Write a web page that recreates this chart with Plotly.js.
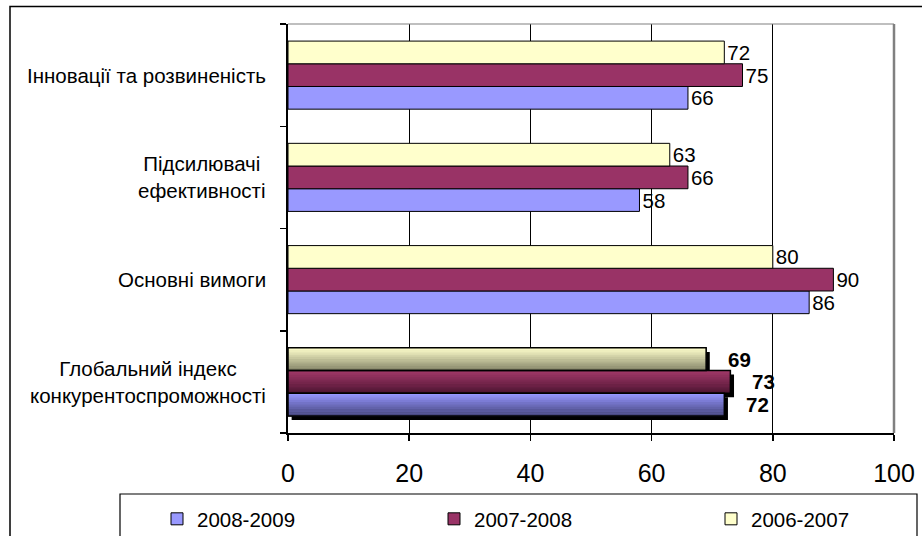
<!DOCTYPE html>
<html>
<head>
<meta charset="utf-8">
<script src="https://cdn.plot.ly/plotly-3.0.1.min.js"></script>
<style>html,body{margin:0;padding:0;background:#fff;}#chart{width:922px;height:536px;}</style>
</head>
<body>
<div id="chart"></div>
<script>
// ---- data ----
var categories = ['Глобальний індекс конкурентоспроможності', 'Основні вимоги', 'Підсилювачі ефективності', 'Інновації та розвиненість'];
var categoryLabels = ['Глобальний індекс<br>конкурентоспроможності', 'Основні вимоги', 'Підсилювачі<br>ефективності', 'Інновації та розвиненість'];
var seriesNames = ['2008-2009', '2007-2008', '2006-2007'];
var values2008_2009 = [72, 86, 58, 66];
var values2007_2008 = [73, 90, 66, 75];
var values2006_2007 = [69, 80, 63, 72];
var xTicks = [0, 20, 40, 60, 80, 100];

// ---- styles ----
var FONT = 'Liberation Sans';
var seriesValues = [values2008_2009, values2007_2008, values2006_2007];
var colors = ['#9999FF', '#993366', '#FFFFCC'];
var gradTop = [[150,150,255],[160,56,104],[250,250,200]];
var gradBot = [[72,72,128],[82,22,52],[140,140,110]];
var W = 0.222;
var offsets = [-0.333, -0.111, 0.111];
var PX_PER_CAT = 409 / 4;
var legendIds = ['legend', 'legend2', 'legend3'];
var legendSymbolPx = [182, 459, 736];

var traces = [];
// shadows for the highlighted (first) category
for (var s = 0; s < 3; s++) {
  traces.push({
    type: 'bar', orientation: 'h', showlegend: false, hoverinfo: 'skip',
    y: [categories[0]], x: [seriesValues[s][0]], base: 0.6,
    offset: offsets[s] - 0.04, width: W,
    marker: {color: '#000000', line: {width: 0}}
  });
}
// main bars
for (var s = 0; s < 3; s++) {
  traces.push({
    type: 'bar', orientation: 'h', name: seriesNames[s], legend: legendIds[s],
    y: categories, x: seriesValues[s],
    offset: offsets[s], width: W,
    text: seriesValues[s].map(function (v, i) { return i === 0 ? '' : String(v); }),
    textposition: 'outside', constraintext: 'none', cliponaxis: false,
    textfont: {family: FONT, size: 20.5, color: '#000'},
    marker: {color: colors[s], line: {color: '#000', width: 1}}
  });
}
// gradient strips for the first category
var N = 10;
function mix(a, b, t) {
  return 'rgb(' + a.map(function (v, i) { return Math.round(v + (b[i] - v) * t); }).join(',') + ')';
}
for (var s = 0; s < 3; s++) {
  for (var k = 0; k < N; k++) {
    traces.push({
      type: 'bar', orientation: 'h', showlegend: false, hoverinfo: 'skip',
      y: [categories[0]], x: [seriesValues[s][0]],
      offset: offsets[s] + W - (k + 1) * W / N - 0.002, width: W / N + 0.004,
      marker: {color: mix(gradTop[s], gradBot[s], k / (N - 1)), line: {width: 0}}
    });
  }
}
// outlines for the first category
for (var s = 0; s < 3; s++) {
  traces.push({
    type: 'bar', orientation: 'h', showlegend: false, hoverinfo: 'skip',
    y: [categories[0]], x: [seriesValues[s][0]],
    offset: offsets[s], width: W,
    marker: {color: 'rgba(0,0,0,0)', line: {color: '#000', width: 1.5}}
  });
}

var annotations = [];
for (var c = 0; c < categories.length; c++) {
  annotations.push({
    xref: 'paper', yref: 'y', x: -0.033, y: categories[c], xanchor: 'right', yanchor: 'middle',
    text: categoryLabels[c], align: 'center', showarrow: false,
    font: {family: FONT, size: 20.5, color: '#000'}
  });
}
for (var s = 0; s < 3; s++) {
  annotations.push({
    xref: 'x', yref: 'y', x: seriesValues[s][0], y: categories[0],
    xanchor: 'left', yanchor: 'middle', xshift: 20,
    yshift: (offsets[s] + W / 2) * PX_PER_CAT,
    text: '<b>' + seriesValues[s][0] + '</b>', showarrow: false,
    font: {family: FONT, size: 20.5, color: '#000'}
  });
}

function px2x(p) { return (p - 288) / 606; }
function px2y(p) { return (433 - p) / 409; }

var layout = {
  width: 922, height: 536,
  margin: {l: 288, r: 28, t: 24, b: 103, autoexpand: false},
  paper_bgcolor: '#fff', plot_bgcolor: '#fff',
  barmode: 'overlay',
  font: {family: FONT, color: '#000'},
  xaxis: {
    range: [0, 100], tickvals: xTicks, ticktext: xTicks.map(String), automargin: false,
    showgrid: true, gridcolor: '#000', gridwidth: 1, zeroline: false,
    showline: true, linecolor: '#000', linewidth: 1.5,
    ticks: 'outside', ticklen: 6, tickcolor: '#000', tickwidth: 1.5,
    ticklabelstandoff: 11,
    tickfont: {family: FONT, size: 25, color: '#000'}, fixedrange: true
  },
  yaxis: {
    type: 'category', categoryorder: 'array', categoryarray: categories, automargin: false,
    range: [-0.5, 3.5], showticklabels: false, tickson: 'boundaries',
    showgrid: false, zeroline: false,
    showline: true, linecolor: '#000', linewidth: 2,
    ticks: 'outside', ticklen: 6, tickcolor: '#000', tickwidth: 1.5, fixedrange: true
  },
  annotations: annotations,
  shapes: [
    {type: 'line', xref: 'paper', yref: 'paper', x0: 0, x1: 1, y0: 1, y1: 1, line: {color: '#808080', width: 1.2}},
    {type: 'line', xref: 'paper', yref: 'paper', x0: 1, x1: 1, y0: 0, y1: 1, line: {color: '#808080', width: 2.5}},
    {type: 'rect', xref: 'paper', yref: 'paper', x0: px2x(10), x1: px2x(924), y0: px2y(540), y1: px2y(6.5), line: {color: '#000', width: 1.5}},
    {type: 'rect', xref: 'paper', yref: 'paper', x0: px2x(120), x1: px2x(917), y0: px2y(545), y1: px2y(494), line: {color: '#000', width: 1.2}}
  ],
  showlegend: true
};
for (var s = 0; s < 3; s++) {
  layout[legendIds[s]] = {
    orientation: 'h', x: px2x(legendSymbolPx[s] - 25), xanchor: 'left', y: px2y(499), yanchor: 'top',
    borderwidth: 0, bgcolor: 'rgba(0,0,0,0)', itemwidth: 30,
    font: {family: FONT, size: 20.5, color: '#000'}
  };
}

Plotly.newPlot('chart', traces, layout, {displayModeBar: false, staticPlot: true});
</script>
</body>
</html>
